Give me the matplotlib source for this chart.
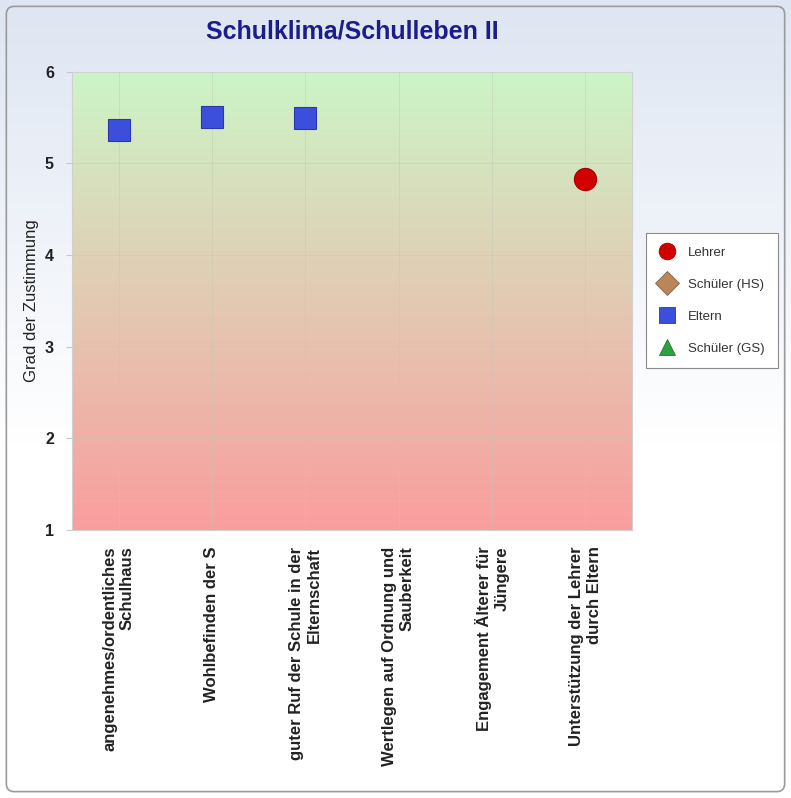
import numpy as np
import matplotlib.pyplot as plt
from matplotlib.patches import FancyBboxPatch
from matplotlib.lines import Line2D

plt.rcParams['font.family'] = ['Liberation Sans', 'DejaVu Sans']

# ------------------------------------------------------------------
# Daten
# ------------------------------------------------------------------
kategorien = [
    "angenehmes/ordentliches\nSchulhaus",
    "Wohlbefinden der S",
    "guter Ruf der Schule in der\nElternschaft",
    "Wertlegen auf Ordnung und\nSauberkeit",
    "Engagement Älterer für\nJüngere",
    "Unterstützung der Lehrer\ndurch Eltern",
]
lehrer = [np.nan, np.nan, np.nan, np.nan, np.nan, 4.83]
schueler_hs = [np.nan] * 6
eltern = [5.36, 5.51, 5.50, np.nan, np.nan, np.nan]
schueler_gs = [np.nan] * 6

serien = [
    ("Lehrer", lehrer, 'o', '#d00000', '#a00000'),
    ("Schüler (HS)", schueler_hs, 'D', '#b8865a', '#8a6240'),
    ("Eltern", eltern, 's', '#3b4fdc', '#2a3aa8'),
    ("Schüler (GS)", schueler_gs, '^', '#2ea043', '#1f7a30'),
]

# ------------------------------------------------------------------
# Figur mit Hintergrundverlauf
# ------------------------------------------------------------------
fig = plt.figure(figsize=(7.91, 7.98), dpi=100)

bg = fig.add_axes([0, 0, 1, 1], zorder=-10)
verlauf = np.linspace(0, 1, 256).reshape(-1, 1)
top_c = np.array([0.87, 0.90, 0.95])
bot_c = np.array([1.0, 1.0, 1.0])
w = np.clip(verlauf * 1.8, 0, 1)
img = top_c * (1 - w)[..., None] + bot_c * w[..., None]
bg.imshow(img, aspect='auto', extent=[0, 1, 0, 1], origin='upper')
bg.add_patch(FancyBboxPatch((0.008, 0.008), 0.984, 0.984,
                            boxstyle="round,pad=0,rounding_size=0.01",
                            fill=False, edgecolor='#9a9a9a', linewidth=1.2,
                            transform=bg.transAxes))
bg.set_xlim(0, 1)
bg.set_ylim(0, 1)
bg.axis('off')

ax = fig.add_axes([0.091, 0.336, 0.708, 0.574])

# Verlauf im Plotbereich: oben grün, unten rot
gruen = np.array([0.80, 0.96, 0.78])
rot = np.array([0.98, 0.62, 0.62])
t = np.linspace(0, 1, 256).reshape(-1, 1)
grad = gruen * (1 - t)[..., None] + rot * t[..., None]
ax.imshow(grad, aspect='auto', extent=[-0.5, 5.5, 1, 6], origin='upper', zorder=0)

x = np.arange(len(kategorien))
for name, werte, marker, farbe, rand in serien:
    ax.plot(x, werte, linestyle='none', marker=marker, markersize=16,
            markerfacecolor=farbe, markeredgecolor=rand, markeredgewidth=0.8,
            zorder=3)

ax.set_xlim(-0.5, 5.5)
ax.set_ylim(1, 6)
ax.set_xticks(x)
ax.set_xticklabels(kategorien, rotation=90, ha='center', va='top',
                   multialignment='right', fontsize=12, fontweight='bold',
                   color='#222222')
ax.set_yticks([1, 2, 3, 4, 5, 6])
ax.set_yticklabels(['1', '2', '3', '4', '5', '6'], fontsize=11.5,
                   fontweight='bold', color='#222222')
ax.tick_params(axis='x', length=0, pad=12)
ax.tick_params(axis='y', length=4, color='#c8c8c8', pad=9)
ax.grid(True, color='#bfc8b8', linewidth=0.6, alpha=0.5, zorder=1)
for s in ax.spines.values():
    s.set_color('#d0d0d0')
    s.set_linewidth(0.8)

ax.set_ylabel("Grad der Zustimmung", fontsize=12, color='#222222')
ax.yaxis.set_label_coords(-0.058, 0.5)

fig.text(0.445, 0.96, "Schulklima/Schulleben II", ha='center', va='center',
         fontsize=18, fontweight='bold', color='#1c1c8a')

# Legende
handles = [Line2D([], [], linestyle='none', marker=m, markersize=12,
                  markerfacecolor=f, markeredgecolor=r, markeredgewidth=0.6)
           for _, _, m, f, r in serien]
labels = [s[0] for s in serien]
leg = fig.legend(handles, labels, loc='upper left',
                 bbox_to_anchor=(0.808, 0.716), fontsize=9.5,
                 frameon=True, fancybox=False, edgecolor='#8a8a8a',
                 framealpha=1, labelspacing=1.5, borderpad=1.0,
                 handletextpad=0.9, handlelength=1.3)
leg.get_frame().set_linewidth(0.8)
for txt in leg.get_texts():
    txt.set_color('#333333')

fig.savefig('out.png', dpi=100)
